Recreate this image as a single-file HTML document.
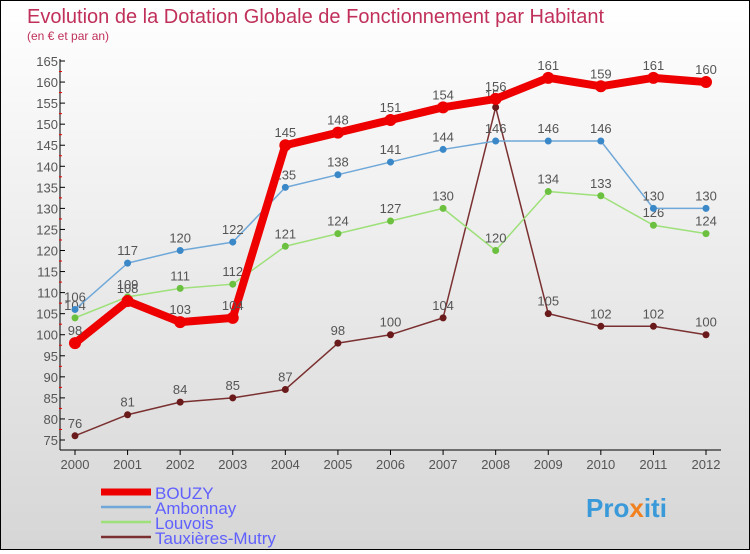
<!DOCTYPE html>
<html><head><meta charset="utf-8"><style>
body{margin:0}
#c{width:748px;height:548px;border:1px solid #000;background:linear-gradient(#ffffff,#d6d6d6);position:relative;font-family:"Liberation Sans",sans-serif}
</style></head><body>
<div id="c">
<svg id="s" width="748" height="548" xmlns="http://www.w3.org/2000/svg">
<text x="26" y="22" font-size="20" fill="#c0305a">Evolution de la Dotation Globale de Fonctionnement par Habitant</text>
<text x="26" y="39" font-size="12" fill="#c0305a">(en € et par an)</text>
<g id="axes"></g><g id="series"></g><g id="legend"></g>
<text x="585" y="516" font-size="26" font-weight="bold" fill="#3a9ad9">Pro<tspan fill="#f08020">x</tspan>iti</text>
</svg></div>
<script>
const years=[2000,2001,2002,2003,2004,2005,2006,2007,2008,2009,2010,2011,2012];
const yTicks=[75,80,85,90,95,100,105,110,115,120,125,130,135,140,145,150,155,160,165];
const seriesNames=["BOUZY","Ambonnay","Louvois","Tauxières-Mutry"];
const bouzy=[98,108,103,104,145,148,151,154,156,161,159,161,160];
const ambonnay=[106,117,120,122,135,138,141,144,146,146,146,130,130];
const louvois=[104,109,111,112,121,124,127,130,120,134,133,126,124];
const tauxieres=[76,81,84,85,87,98,100,104,154,105,102,102,100];
const NS="http://www.w3.org/2000/svg";
const X=i=>74+i*(705-74)/12;
const Y=v=>439-(v-75)*(439-60)/90;
function mk(t,a,p){const e=document.createElementNS(NS,t);for(const k in a)e.setAttribute(k,a[k]);p.appendChild(e);return e;}
const ax=document.getElementById('axes');
let l=mk('line',{x1:59,y1:58,x2:59,y2:449,stroke:'#000'},ax);


l=mk('line',{x1:59,y1:449,x2:720,y2:449,stroke:'#000'},ax);


yTicks.forEach((v,i)=>{
  mk('line',{x1:59,y1:Y(v),x2:64,y2:Y(v),stroke:'#000'},ax);
  if(i<yTicks.length-1) mk('line',{x1:58,y1:Y(v+2.5),x2:61,y2:Y(v+2.5),stroke:'#e00'},ax);
  const t=mk('text',{x:57,y:Y(v)+5,'font-size':13,fill:'#555','text-anchor':'end'},ax);t.textContent=v;
  
  
});
years.forEach((yr,i)=>{
  mk('line',{x1:X(i),y1:449,x2:X(i),y2:454,stroke:'#000'},ax);
  const t=mk('text',{x:X(i),y:468,'font-size':13,fill:'#555','text-anchor':'middle'},ax);t.textContent=yr;
  
  
});
const sg=document.getElementById('series');
const styles=[{c:'#ee0000',w:8,r:6,d:'#ee0000'},{c:'#6fa8d8',w:1.5,r:3.5,d:'#3a88c8'},{c:'#9ee07a',w:1.5,r:3.5,d:'#6cc040'},{c:'#7a3030',w:1.5,r:3.5,d:'#6a1a1a'}];
const data=[bouzy,ambonnay,louvois,tauxieres];
for(let s=3;s>=0;s--){
  const st=styles[s],d=data[s];
  const g=mk('g',{},sg);
  
  
  const p=mk('polyline',{points:d.map((v,i)=>X(i)+','+Y(v)).join(' '),fill:'none',stroke:st.c,'stroke-width':st.w,'stroke-linejoin':'round'},g);
  
  
  d.forEach((v,i)=>{
    const c=mk('circle',{cx:X(i),cy:Y(v),r:st.r,fill:st.d},g);
    
    
    const t=mk('text',{x:X(i),y:Y(v)-8,'font-size':13,fill:'#555','text-anchor':'middle'},g);t.textContent=v;
    
    
  });
}
const lg=document.getElementById('legend');
seriesNames.forEach((n,i)=>{
  const y=491+i*15;
  const g=mk('g',{},lg);
  
  
  mk('line',{x1:100,y1:y,x2:150,y2:y,stroke:styles[i].c,'stroke-width':i==0?7:2.5},g);
  const t=mk('text',{x:154,y:y+7,'font-size':17,fill:'#6060ff'},g);t.textContent=n;
});
</script>
</body></html>
